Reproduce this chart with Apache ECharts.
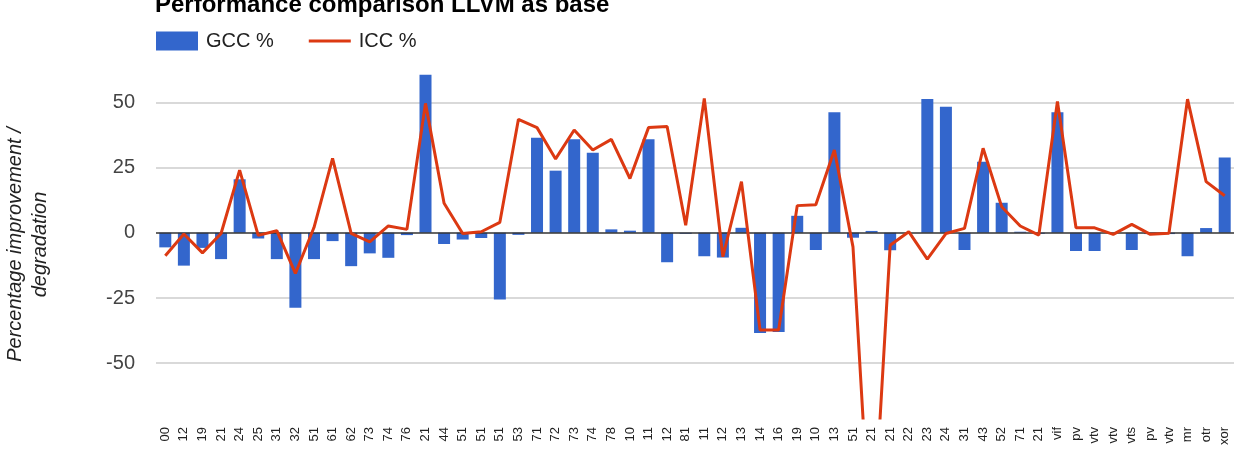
<!DOCTYPE html>
<html>
<head>
<meta charset="utf-8">
<script src="https://cdn.jsdelivr.net/npm/echarts@6/dist/echarts.min.js"></script>
<style>
  html, body { margin: 0; padding: 0; background: #fff; }
  #chart-container { width: 1249px; height: 451px; }
</style>
</head>
<body>
<div id="chart-container"></div>
<script>
var categories = ['00', '12', '19', '21', '24', '25', '31', '32', '51', '61', '62', '73', '74', '76', '21',
  '44', '51', '51', '51', '53', '71', '72', '73', '74', '78', '10', '11', '12', '81', '11', '12', '13',
  '14', '16', '19', '10', '13', '51', '21', '21', '22', '23', '24', '31', '43', '52', '71', '21', 'vif',
  'pv', 'vtv', 'vtv', 'vts', 'pv', 'vtv', 'mr', 'otr', 'xor'];

var gccValues = [-5.6, -12.6, -5.8, -10.1, 20.5, -2.2, -10.1, -28.7, -10.1, -3.2,
  -12.8, -7.9, -9.6, -0.9, 60.6, -4.3, -2.6, -2, -25.6, -0.8,
  36.4, 23.8, 35.8, 30.7, 1.3, 0.8, 35.8, -11.3, -0.4, -9,
  -9.5, 1.9, -38.4, -38, 6.5, -6.6, 46.2, -1.9, 0.7, -6.7,
  0, 51.3, 48.3, -6.6, 27.2, 11.5, 0.4, -0.4, 46.2, -7,
  -7, 0, -6.6, -0.5, -0.5, -9, 1.8, 28.8];

var iccValues = [-8.8, -0.5, -7.7, -0.3, 24, -1, 0.8, -15.6, 2, 28.5,
  -0.2, -3.5, 2.6, 1.3, 49.6, 11.3, -0.3, 0.4, 4, 43.5,
  40.3, 28.3, 39.4, 31.7, 35.8, 20.8, 40.3, 40.7, 2.9, 51.5,
  -9.2, 19.6, -37.3, -37.3, 10.4, 10.7, 31.7, -5.4, -127, -4.8,
  0.4, -10.1, -0.3, 1.7, 32.4, 10, 2.6, -0.9, 50.3, 1.9,
  1.9, -0.6, 3.2, -0.6, -0.2, 51.2, 19.6, 14.2];

var yTicks = [-50, -25, 0, 25, 50];
var gridLines = [-50, -25, 25, 50];

var dom = document.getElementById('chart-container');
var myChart = echarts.init(dom, null, { renderer: 'canvas' });

var option = {
  animation: false,
  title: {
    text: 'Performance comparison LLVM as base',
    left: 150,
    top: -12,
    textStyle: { fontFamily: 'Liberation Sans', fontSize: 24, fontWeight: 'bold', color: '#000' }
  },
  legend: {
    left: 156,
    top: 31,
    padding: 0,
    itemWidth: 42,
    itemHeight: 19,
    itemGap: 35,
    textStyle: { fontFamily: 'Liberation Sans', fontSize: 20, color: '#222', padding: [0, 0, 0, 3] },
    data: [
      { name: 'GCC %', icon: 'rect' },
      { name: 'ICC %', icon: 'path://M0,0 L42,0 L42,3 L0,3 Z' }
    ]
  },
  grid: { left: 156, right: 15, top: 71, bottom: 33, outerBoundsMode: 'none' },
  xAxis: {
    type: 'category',
    data: categories,
    axisLine: { show: false },
    axisTick: { show: false },
    axisLabel: {
      rotate: 90,
      interval: 0,
      margin: 9,
      fontFamily: 'Liberation Sans',
      fontSize: 13,
      color: '#222'
    }
  },
  yAxis: {
    type: 'value',
    min: -71,
    max: 62,
    name: 'Percentage improvement /\ndegradation',
    nameLocation: 'middle',
    nameRotate: 90,
    nameGap: 103,
    nameTextStyle: {
      fontFamily: 'Liberation Sans',
      fontSize: 20,
      fontStyle: 'italic',
      color: '#222',
      lineHeight: 25
    },
    splitLine: { show: false },
    axisLine: { show: false },
    axisTick: { show: false },
    axisLabel: {
      customValues: yTicks,
      margin: 21,
      fontFamily: 'Liberation Sans',
      fontSize: 20,
      color: '#444'
    }
  },
  series: [
    {
      name: 'GCC %',
      type: 'bar',
      data: gccValues,
      barWidth: 12,
      z: 2,
      itemStyle: { color: '#3366cc' },
      markLine: {
        silent: true,
        symbol: 'none',
        z: 1,
        label: { show: false },
        lineStyle: { color: '#cccccc', type: 'solid', width: 1.5 },
        data: gridLines.map(function (v) { return { yAxis: v }; })
      }
    },
    {
      name: 'ICC %',
      type: 'line',
      data: iccValues,
      symbol: 'none',
      z: 4,
      lineStyle: { color: '#dc3912', width: 3 },
      itemStyle: { color: '#dc3912' },
      markLine: {
        silent: true,
        symbol: 'none',
        z: 3,
        label: { show: false },
        lineStyle: { color: '#333333', type: 'solid', width: 1.5 },
        data: [{ yAxis: 0 }]
      }
    }
  ]
};

myChart.setOption(option);
window.addEventListener('resize', myChart.resize);
</script>
</body>
</html>
